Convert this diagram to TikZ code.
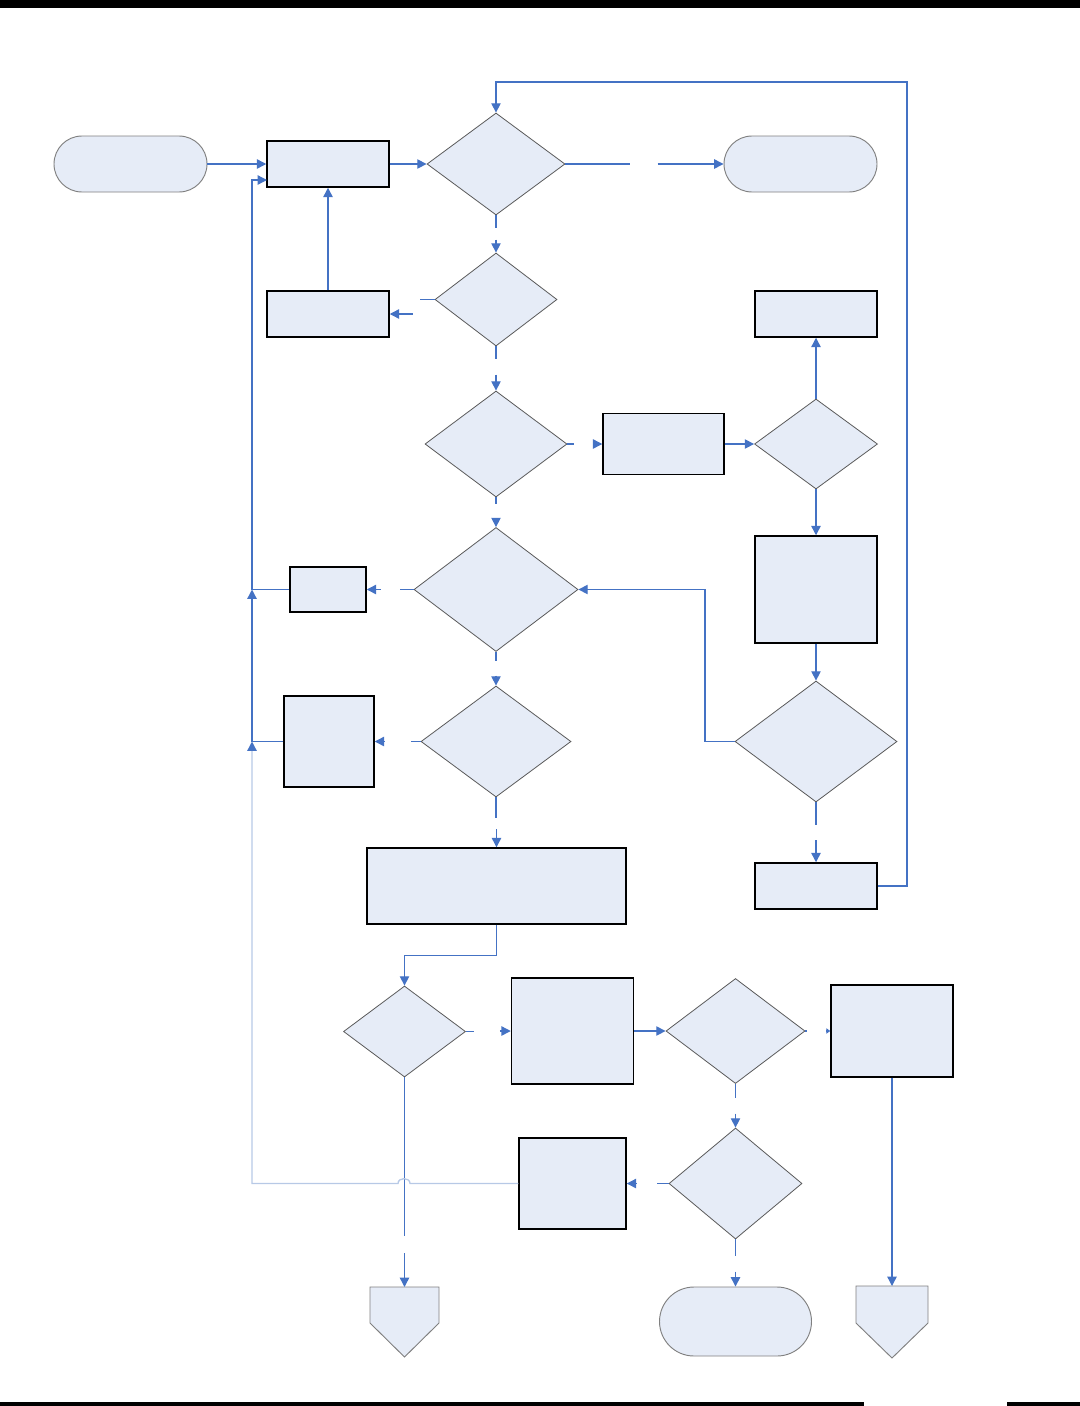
\documentclass[tikz,border=0pt]{standalone}
\usetikzlibrary{shapes.geometric,shapes.misc,arrows.meta}
\newlength\pxl \setlength\pxl{0.75pt}
\definecolor{fillb}{RGB}{230,236,247}
\definecolor{lineb}{RGB}{68,114,196}
\definecolor{lightb}{RGB}{183,201,230}
\definecolor{dgray}{RGB}{90,90,90}
\tikzset{
 proc/.style 2 args={rectangle,draw=black,line width=1.1pt,fill=fillb,minimum width=#1\pxl,minimum height=#2\pxl,inner sep=0pt},
 dec/.style 2 args={diamond,draw=dgray,line width=0.6pt,fill=fillb,minimum width=#1\pxl,minimum height=#2\pxl,inner sep=0pt},
 term/.style 2 args={rounded rectangle,draw=gray,line width=0.7pt,fill=fillb,minimum width=#1\pxl,minimum height=#2\pxl,inner sep=0pt},
 conn/.style={draw=lineb,line width=1pt},
 arr/.style={conn,-{Triangle[length=7pt,width=7pt]}},
 smallarr/.style={conn,-{Triangle[length=3pt,width=4pt]}},
 light/.style={draw=lightb,line width=1pt,-{Triangle[length=7pt,width=7pt,color=lineb,fill=lineb]}},
 offp/.style={draw=gray,fill=fillb,line width=0.7pt}
}
\begin{document}
\begin{tikzpicture}[x=0.75pt,y=-0.75pt]
\useasboundingbox (0,0) rectangle (1080,1406);
% page bars
\fill[black] (0,0) rectangle (1080,8);
\fill[black] (0,1402) rectangle (864,1406);
\fill[black] (1007,1402) rectangle (1080,1406);

% terminals
\node[term={153}{56}] (S) at (130.5,164) {};
\node[term={153}{56}] (E1) at (800.5,164) {};
\node[term={152}{69}] (E2) at (735.5,1321.5) {};

% process boxes
\node[proc={122}{46}] (A) at (328,164) {};
\node[proc={122}{46}] (B2) at (328,314) {};
\node[proc={121}{61}] (B3) at (663.5,444) {};
\node[proc={122}{46}] (B4) at (816,314) {};
\node[proc={122}{107}] (B5) at (816,589.5) {};
\node[proc={76}{45}] (B6) at (328,589.5) {};
\node[proc={90}{91}] (B7) at (329,741.5) {};
\node[proc={259}{76}] (B8) at (496.5,886) {};
\node[proc={122}{46}] (B9) at (816,886) {};
\node[proc={122}{106}] (B10a) at (572.5,1031) {};
\node[proc={122}{92}] (B11) at (892,1031) {};
\node[proc={107}{91}] (B10) at (572.5,1183.5) {};

% decisions
\node[dec={138}{102}] (D1) at (496,164) {};
\node[dec={122}{93}] (D2) at (496,299.5) {};
\node[dec={142}{106}] (D3) at (496,444) {};
\node[dec={123}{90}] (D4) at (816,444) {};
\node[dec={164}{124}] (D5) at (496,589.5) {};
\node[dec={162}{121}] (D6) at (816,741.5) {};
\node[dec={150}{111}] (D7) at (496,741.5) {};
\node[dec={122}{91}] (D8) at (404.5,1031.5) {};
\node[dec={139}{105}] (D9) at (735.5,1031) {};
\node[dec={133}{111}] (D10) at (735.5,1183.5) {};

% off-page connectors
\draw[offp] (370,1287) -- (439,1287) -- (439,1323) -- (404.5,1357) -- (370,1323) -- cycle;
\coordinate (O1) at (404.5,1287);
\draw[offp] (856,1286) -- (928,1286) -- (928,1323) -- (892,1358) -- (856,1323) -- cycle;
\coordinate (O2) at (892,1286);

% junction coordinates
\coordinate (J1) at (252,589.5);
\coordinate (J2) at (252,741.5);
\coordinate (Ain) at (267,180);

% connectors
\draw[arr] (S.east) -- (A.west);
\draw[arr] (A.east) -- (D1.west);
\draw[conn] (D1.east) -- ++(65,0);
\draw[arr] (E1.west) ++(-66,0) -- (E1.west);
\draw[conn] (D1.south) -- ++(0,13);
\draw[arr] (D2.north) ++(0,-13) -- (D2.north);
\draw[conn] (D2.west) -- ++(-15,0);
\draw[arr] (B2.east) ++(23,0) -- (B2.east);
\draw[arr] (B2.north) -- (A.south);
\draw[conn] (D2.south) -- ++(0,13);
\draw[arr] (D3.north) ++(0,-16) -- (D3.north);
\draw[conn] (D3.east) -- ++(7,0);
\draw[arr] (B3.west) ++(-9,0) -- (B3.west);
\draw[arr] (B3.east) -- (D4.west);
\draw[arr] (D4.north) -- (B4.south);
\draw[arr] (D4.south) -- (B5.north);
\draw[arr] (B5.south) -- (D6.north);
\draw[arr] (D6.west) -- (705,741.5) |- (D5.east);
\draw[conn] (D6.south) -- ++(0,23);
\draw[arr] (B9.north) ++(0,-22) -- (B9.north);
\draw[arr] (B9.east) -| (907,82) -| (D1.north);
\draw[conn] (D3.south) -- ++(0,7);
\draw[arr] (D5.north) ++(0,-9) -- (D5.north);
\draw[conn] (D5.west) -- ++(-14,0);
\draw[arr] (B6.east) ++(14,0) -- (B6.east);
\draw[conn] (D5.south) -- ++(0,9);
\draw[arr] (D7.north) ++(0,-10) -- (D7.north);
\draw[conn] (D7.west) -- ++(-10,0);
\draw[arr] (B7.east) ++(10,0) -- (B7.east);
\draw[conn] (D7.south) -- ++(0,21);
\draw[arr] (B8.north) ++(0,-18) -- (B8.north);
\draw[arr] (B6.west) -| (252,180) -- (Ain);
\draw[arr] (B7.west) -| (J1);
\draw[conn] (D8.south) -- ++(0,159);
\draw[arr] (O1) ++(0,-34) -- (O1);
\draw[light] (B10.west) -- (410,1183.5) .. controls (410,1177) and (398,1177) .. (398,1183.5) -| (J2);
\draw[arr] (B8.south) -- ++(0,31) -| (D8.north);
\draw[conn] (D8.east) -- ++(8,0);
\draw[arr] (B10a.west) ++(-11,0) -- (B10a.west);
\draw[arr] (B10a.east) -- (D9.west);
\draw[conn] (D9.east) -- ++(2,0);
\draw[smallarr] (B11.west) ++(-4,0) -- (B11.west);
\draw[conn] (D9.south) -- ++(0,14);
\draw[arr] (D10.north) ++(0,-14) -- (D10.north);
\draw[conn] (D10.west) -- ++(-12,0);
\draw[arr] (B10.east) ++(10,0) -- (B10.east);
\draw[conn] (D10.south) -- ++(0,17);
\draw[arr] (E2.north) ++(0,-15) -- (E2.north);
\draw[arr] (B11.south) -- (O2);
\end{tikzpicture}
\end{document}
